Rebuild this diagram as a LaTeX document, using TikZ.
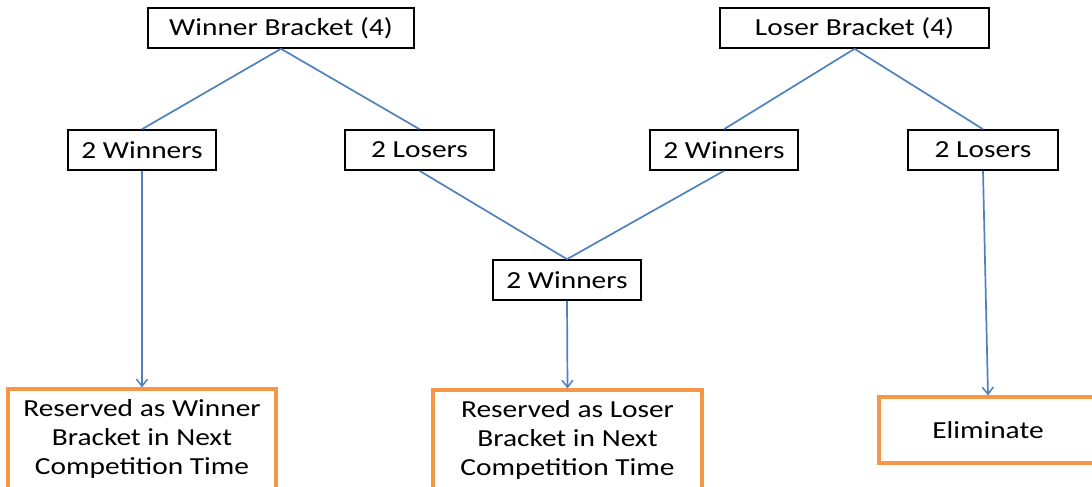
\documentclass[tikz,border=0pt]{standalone}
\usepackage{fontspec}
\setmainfont{Carlito}[FakeStretch=1.2]
\usetikzlibrary{arrows.meta}
\definecolor{lineblue}{RGB}{79,129,189}
\definecolor{boxorange}{RGB}{247,150,70}
\begin{document}
\begin{tikzpicture}[x=1pt,y=-1pt,
  blackbox/.style={draw=black,line width=1.6pt,minimum height=40pt,inner sep=0pt,font=\fontsize{24.5}{28}\selectfont},
  orangebox/.style={draw=boxorange,line width=3.2pt,inner sep=0pt,align=center,font=\fontsize{24.5}{29}\selectfont},
  conn/.style={draw=lineblue,line width=1.7pt},
  arr/.style={conn,-{Straight Barb[length=7pt,width=11pt,line width=1.5pt]}}]
\useasboundingbox (0,0) rectangle (1092,487);
\node[blackbox,minimum width=266pt] (wb) at (281,28) {Winner Bracket (4)};
\node[blackbox,minimum width=269pt] (lb) at (854.5,28) {Loser Bracket (4)};
\node[blackbox,minimum width=148pt] (w1) at (142,150) {2 Winners};
\node[blackbox,minimum width=149pt] (l1) at (419.5,150) {2 Losers};
\node[blackbox,minimum width=148pt] (w2) at (724,150) {2 Winners};
\node[blackbox,minimum width=150pt] (l2) at (983,150) {2 Losers};
\node[blackbox,minimum width=148pt] (w3) at (567,280) {2 Winners};
\node[orangebox,minimum width=268pt,minimum height=100pt] (rw) at (142,439) {Reserved as Winner\\Bracket in Next\\Competition Time};
\node[orangebox,minimum width=269pt,minimum height=100pt] (rl) at (567.5,440) {Reserved as Loser\\Bracket in Next\\Competition Time};
\node[orangebox,minimum width=218pt,minimum height=66pt] (el) at (988,430) {Eliminate};
\draw[conn] (wb.south) -- (w1.north);
\draw[conn] (wb.south) -- (l1.north);
\draw[conn] (lb.south) -- (w2.north);
\draw[conn] (lb.south) -- (l2.north);
\draw[conn] (l1.south) -- (w3.north);
\draw[conn] (w2.south) -- (w3.north);
\draw[arr] (w1.south) -- (rw.north);
\draw[arr] (w3.south) -- (rl.north);
\draw[arr] (l2.south) -- (el.north);
\end{tikzpicture}
\end{document}
